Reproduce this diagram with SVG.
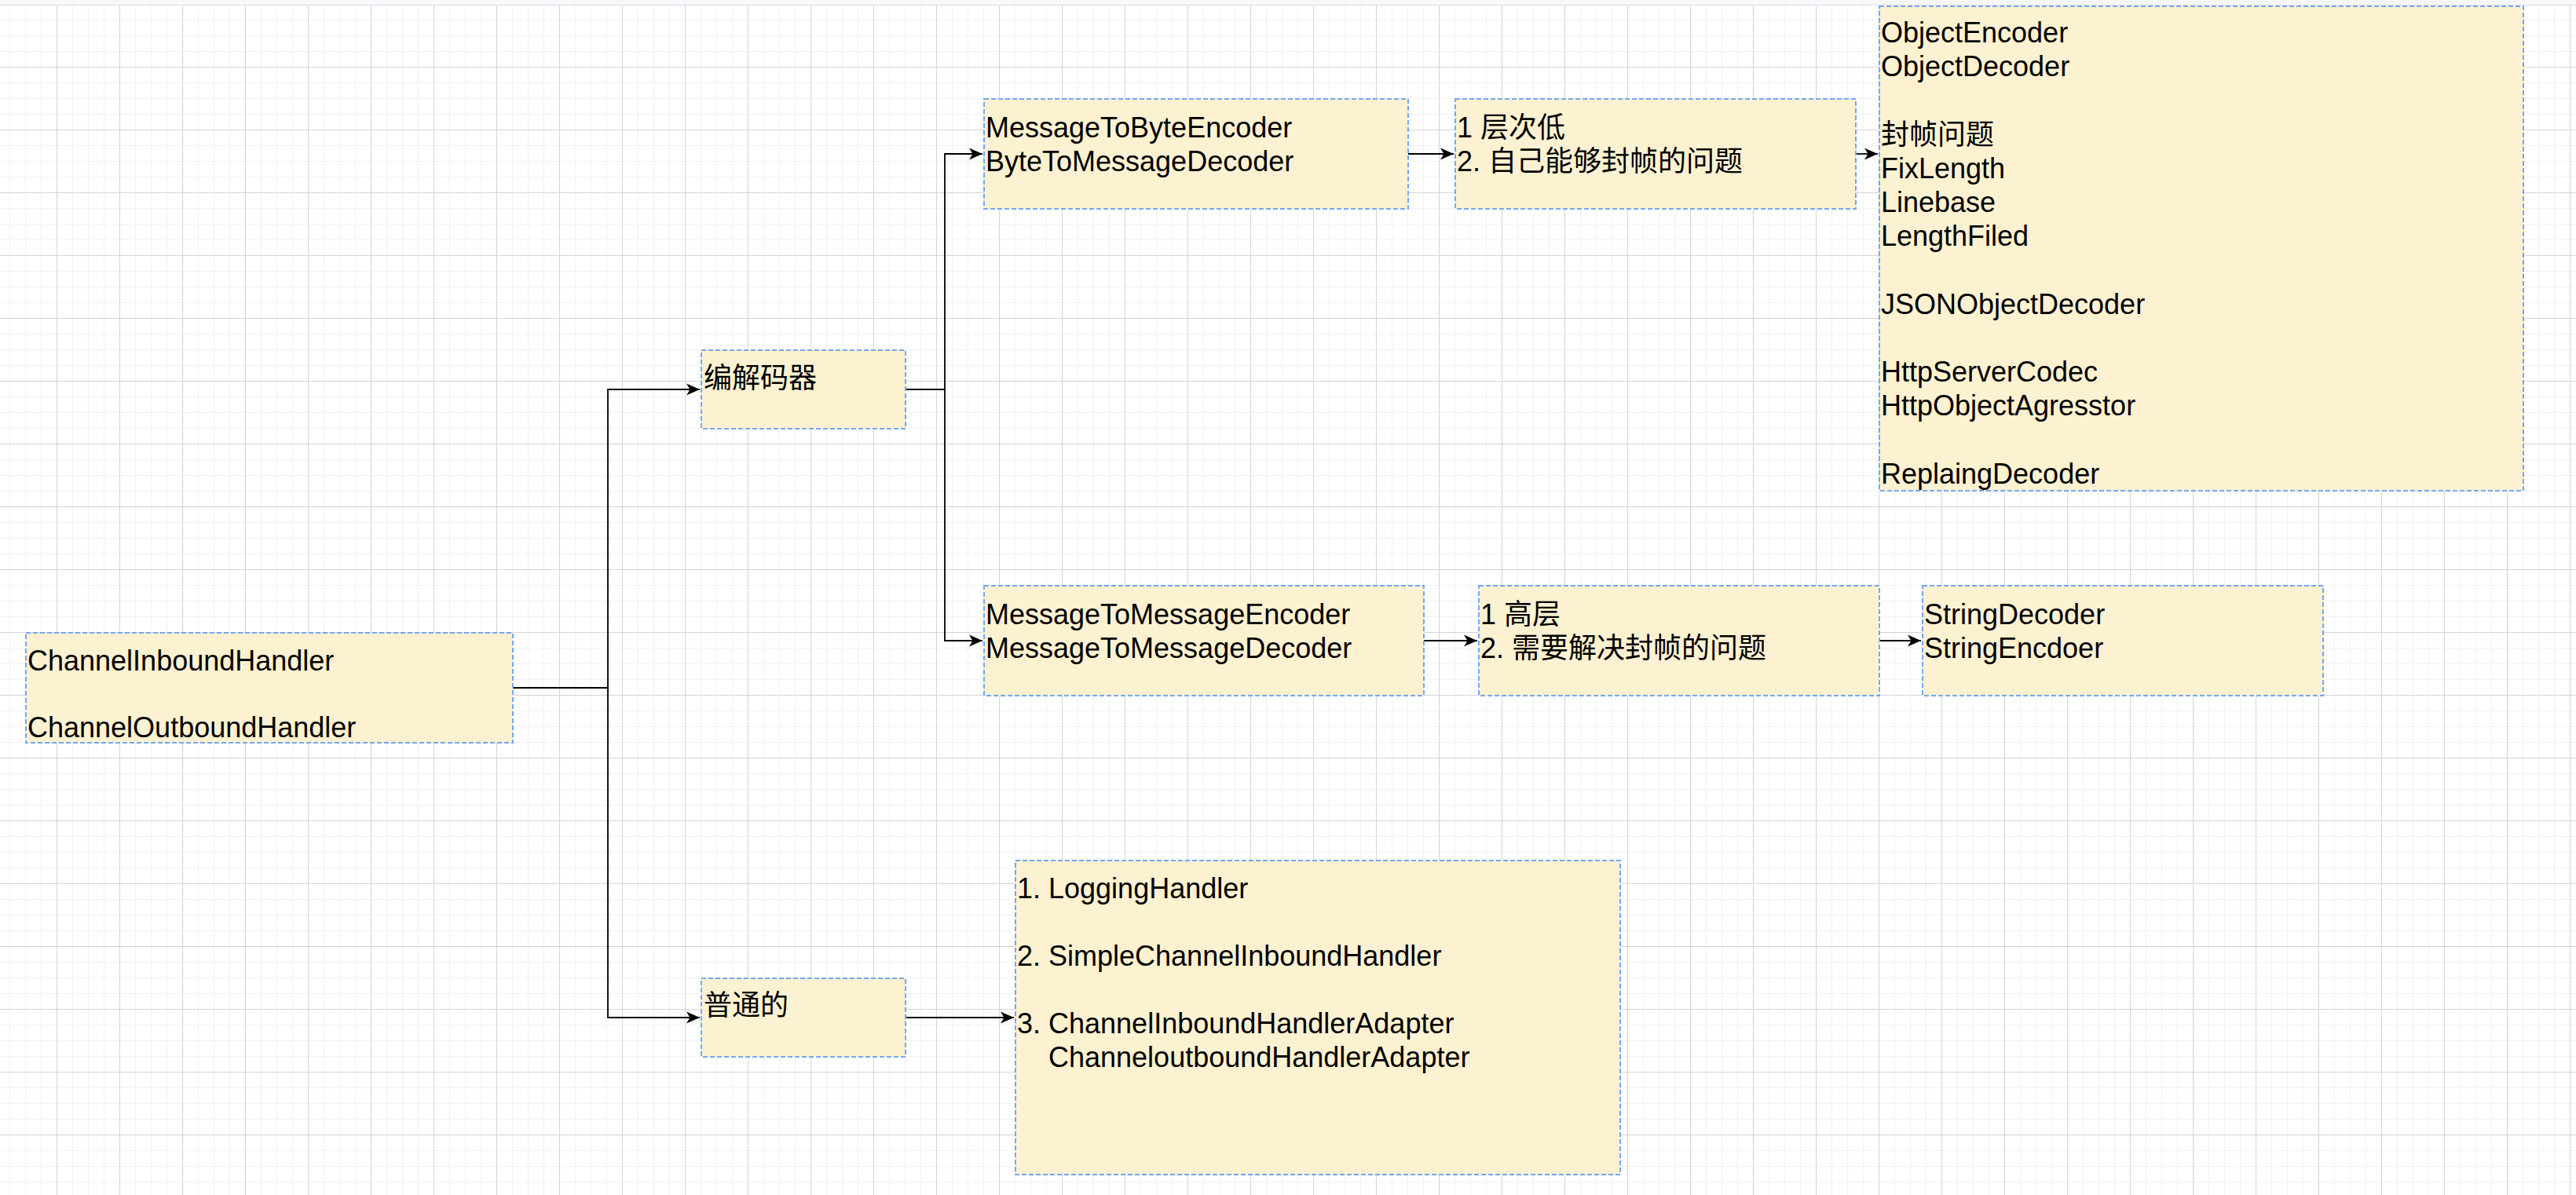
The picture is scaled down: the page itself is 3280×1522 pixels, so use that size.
<svg xmlns="http://www.w3.org/2000/svg" width="3280" height="1522" viewBox="0 0 3280 1522">
<style>
.node{fill:#fcf1d0;stroke:#73a7f5;stroke-width:2;stroke-dasharray:6 3}
.t{font-family:"Liberation Sans","Noto Sans CJK SC",sans-serif;font-size:36px;fill:#000}
.edge{fill:none;stroke:#000;stroke-width:1.8}
</style>
<defs>
<pattern id="grid" width="80" height="80" patternUnits="userSpaceOnUse" x="-8" y="5">
<rect x="0" y="0" width="80" height="80" fill="#ffffff"/>
<rect x="20" y="0" width="1" height="80" fill="#f1f1f1"/>
<rect x="40" y="0" width="1" height="80" fill="#f1f1f1"/>
<rect x="60" y="0" width="1" height="80" fill="#f1f1f1"/>
<rect x="0" y="20" width="80" height="1" fill="#f1f1f1"/>
<rect x="0" y="40" width="80" height="1" fill="#f1f1f1"/>
<rect x="0" y="60" width="80" height="1" fill="#f1f1f1"/>
<rect x="0" y="0" width="1" height="80" fill="#d4d4d4"/>
<rect x="0" y="0" width="80" height="1" fill="#d4d4d4"/>
</pattern>
<marker id="arr" markerUnits="userSpaceOnUse" markerWidth="18" markerHeight="16" refX="17" refY="8" orient="auto">
<path d="M0,0.5 L17,8 L0,15.5 L4.5,8 Z" fill="#000"/>
</marker>
</defs>
<rect x="0" y="0" width="3280" height="1522" fill="url(#grid)"/>
<rect x="0" y="0" width="3280" height="6" fill="#f8f8fa"/>
<rect x="0" y="6" width="3280" height="1" fill="#dedee6"/>

<g id="connectors">
<path class="edge" d="M653,876 H774 V496 H891" marker-end="url(#arr)"/>
<path class="edge" d="M653,876 H774 V1296 H891" marker-end="url(#arr)"/>
<path class="edge" d="M1153,496 H1203 V196 H1251" marker-end="url(#arr)"/>
<path class="edge" d="M1153,496 H1203 V816 H1251" marker-end="url(#arr)"/>
<path class="edge" d="M1793,196 H1851" marker-end="url(#arr)"/>
<path class="edge" d="M2363,196 H2391" marker-end="url(#arr)"/>
<path class="edge" d="M1813,816 H1881" marker-end="url(#arr)"/>
<path class="edge" d="M2393,816 H2446" marker-end="url(#arr)"/>
<path class="edge" d="M1153,1296 H1291" marker-end="url(#arr)"/>
</g>

<g id="node-channel-handler">
<rect class="node" x="33" y="806" width="620" height="140"/>
<text class="t" x="35" y="854">ChannelInboundHandler</text>
<text class="t" x="35" y="939">ChannelOutboundHandler</text>
</g>

<g id="node-codec">
<rect class="node" x="893" y="446" width="260" height="100"/>
<text class="t" x="896" y="494">编解码器</text>
</g>

<g id="node-common">
<rect class="node" x="893" y="1246" width="260" height="100"/>
<text class="t" x="896" y="1293">普通的</text>
</g>

<g id="node-m2b">
<rect class="node" x="1253" y="126" width="540" height="140"/>
<text class="t" x="1255" y="175">MessageToByteEncoder</text>
<text class="t" x="1255" y="218">ByteToMessageDecoder</text>
</g>

<g id="node-low-level">
<rect class="node" x="1853" y="126" width="510" height="140"/>
<text class="t" x="1855" y="175">1 层次低</text>
<text class="t" x="1855" y="218">2. 自己能够封帧的问题</text>
</g>

<g id="node-codecs-list">
<rect class="node" x="2393" y="8" width="820" height="617"/>
<text class="t" x="2395" y="54">ObjectEncoder</text>
<text class="t" x="2395" y="97">ObjectDecoder</text>
<text class="t" x="2395" y="184">封帧问题</text>
<text class="t" x="2395" y="227">FixLength</text>
<text class="t" x="2395" y="270">Linebase</text>
<text class="t" x="2395" y="313">LengthFiled</text>
<text class="t" x="2395" y="400">JSONObjectDecoder</text>
<text class="t" x="2395" y="486">HttpServerCodec</text>
<text class="t" x="2395" y="529">HttpObjectAgresstor</text>
<text class="t" x="2395" y="616">ReplaingDecoder</text>
</g>

<g id="node-m2m">
<rect class="node" x="1253" y="746" width="560" height="140"/>
<text class="t" x="1255" y="795">MessageToMessageEncoder</text>
<text class="t" x="1255" y="838">MessageToMessageDecoder</text>
</g>

<g id="node-high-level">
<rect class="node" x="1883" y="746" width="510" height="140"/>
<text class="t" x="1885" y="795">1 高层</text>
<text class="t" x="1885" y="838">2. 需要解决封帧的问题</text>
</g>

<g id="node-string">
<rect class="node" x="2448" y="746" width="510" height="140"/>
<text class="t" x="2450" y="795">StringDecoder</text>
<text class="t" x="2450" y="838">StringEncdoer</text>
</g>

<g id="node-handlers">
<rect class="node" x="1293" y="1096" width="770" height="400"/>
<text class="t" x="1295" y="1144">1. LoggingHandler</text>
<text class="t" x="1295" y="1230">2. SimpleChannelInboundHandler</text>
<text class="t" x="1295" y="1316">3. ChannelInboundHandlerAdapter</text>
<text class="t" x="1335" y="1359">ChanneloutboundHandlerAdapter</text>
</g>
</svg>
